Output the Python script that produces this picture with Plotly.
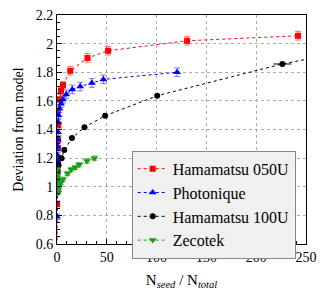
import plotly.graph_objects as go

# Hamamatsu 050U
ham050_x = [0.0, 0.1, 0.2, 0.3, 0.4, 0.5, 0.6, 0.8, 1.0, 1.3, 0.7, 2.3, 4.0, 6.0, 13.3, 30.6, 51.3, 130.6, 242.0]
ham050_y = [0.50, 0.88, 0.98, 1.05, 1.10, 1.15, 1.20, 1.27, 1.33, 1.43, 1.53, 1.61, 1.67, 1.71, 1.81, 1.90, 1.95, 2.02, 2.055]
ham050_err = [0.02, 0.02, 0.02, 0.02, 0.02, 0.02, 0.02, 0.02, 0.02, 0.02, 0.02, 0.02, 0.025, 0.025, 0.03, 0.03, 0.03, 0.03, 0.03]

# Photonique
phot_x = [0.0, 0.1, 0.2, 0.3, 0.4, 0.5, 0.6, 0.7, 0.8, 1.0, 1.2, 1.5, 2.5, 4.0, 6.0, 9.3, 15.3, 23.3, 35.0, 46.6, 120.6]
phot_y = [0.79, 0.97, 1.00, 1.05, 1.12, 1.18, 1.22, 1.28, 1.33, 1.38, 1.45, 1.50, 1.545, 1.58, 1.61, 1.645, 1.68, 1.70, 1.725, 1.75, 1.80]
phot_err = [0.02] * 12 + [0.025, 0.025, 0.025, 0.03, 0.03, 0.03, 0.03, 0.03, 0.03]

# Hamamatsu 100U
ham100_x = [0.3, 1.6, 4.6, 7.3, 15.0, 27.6, 48.3, 100.6, 226.3, 280.0]
ham100_y = [1.10, 1.15, 1.20, 1.257, 1.34, 1.416, 1.496, 1.636, 1.858, 1.93]
ham100_xerr = [0, 0, 0, 0, 0, 0, 0, 0, 9, 0]

# Zecotek
zeco_x = [0.2, 0.4, 0.6, 0.8, 1.0, 1.5, 2.0, 4.0, 6.0, 10.6, 14.3, 18.3, 22.3, 30.0, 37.6]
zeco_y = [1.12, 1.08, 1.05, 1.02, 0.98, 0.96, 1.00, 1.03, 1.053, 1.093, 1.12, 1.135, 1.154, 1.18, 1.20]
zeco_err = [0.015] * 15

series_names = ["Hamamatsu 050U", "Photonique", "Hamamatsu 100U", "Zecotek"]

x_ticks = [0, 50, 100, 150, 200, 250]
y_ticks = [0.6, 0.8, 1.0, 1.2, 1.4, 1.6, 1.8, 2.0, 2.2]
y_tick_labels = ["0.6", "0.8", "1", "1.2", "1.4", "1.6", "1.8", "2", "2.2"]

FONT = "Liberation Serif"

fig = go.Figure()
fig.add_trace(go.Scatter(
    x=ham050_x, y=ham050_y, name=series_names[0], mode="lines+markers",
    line=dict(color="#ff0000", dash="dot", width=1),
    marker=dict(symbol="square", size=6, color="#ff0000"),
    error_y=dict(type="data", array=ham050_err, color="rgba(255,60,60,0.7)", thickness=1, width=3),
))
fig.add_trace(go.Scatter(
    x=phot_x, y=phot_y, name=series_names[1], mode="lines+markers",
    line=dict(color="#0000ff", dash="dot", width=1),
    marker=dict(symbol="triangle-up", size=7, color="#0000ff"),
    error_y=dict(type="data", array=phot_err, color="rgba(60,60,255,0.7)", thickness=1, width=3),
))
fig.add_trace(go.Scatter(
    x=ham100_x, y=ham100_y, name=series_names[2], mode="lines+markers",
    line=dict(color="#000000", dash="dot", width=1),
    marker=dict(symbol="circle", size=6, color="#000000"),
    error_x=dict(type="data", array=ham100_xerr, color="rgba(90,90,90,0.8)", thickness=2, width=0),
))
fig.add_trace(go.Scatter(
    x=zeco_x, y=zeco_y, name=series_names[3], mode="lines+markers",
    line=dict(color="#1a9e1a", dash="dot", width=1),
    marker=dict(symbol="triangle-down", size=7, color="#1a9e1a"),
    error_y=dict(type="data", array=zeco_err, color="rgba(40,170,40,0.7)", thickness=1, width=3),
))

axis_common = dict(
    showline=True, linecolor="black", linewidth=1, mirror=True,
    ticks="inside", ticklen=5, tickcolor="black",
    showgrid=True, gridcolor="#aaaaaa", griddash="dot", gridwidth=1,
    zeroline=False, automargin=False,
    tickfont=dict(family=FONT, size=14, color="black"),
)

fig.update_xaxes(
    range=[0, 250], tickmode="array", tickvals=x_ticks,
    minor=dict(dtick=10, tick0=0, ticks="inside", ticklen=3, tickcolor="black", showgrid=False),
    title=dict(text="N<sub><i>seed</i></sub> / N<sub><i>total</i></sub>",
               font=dict(family=FONT, size=15, color="black"), standoff=10),
    **axis_common,
)
fig.update_yaxes(
    range=[0.6, 2.2], tickmode="array", tickvals=y_ticks, ticktext=y_tick_labels,
    minor=dict(dtick=0.05, tick0=0.6, ticks="inside", ticklen=3, tickcolor="black", showgrid=False),
    title=dict(text="Deviation from model",
               font=dict(family=FONT, size=14, color="black"), standoff=8),
    **axis_common,
)

fig.update_layout(
    width=332, height=290,
    margin=dict(l=57, r=26, t=15, b=46),
    plot_bgcolor="white", paper_bgcolor="white",
    font=dict(family=FONT, size=14, color="black"),
    legend=dict(
        x=0.30, y=0.407, xanchor="left", yanchor="top",
        bgcolor="#f0f0f0", bordercolor="#888888", borderwidth=1,
        font=dict(family="Liberation Serif", size=16, color="black"),
        tracegroupgap=0, itemwidth=30,
    ),
    showlegend=True,
)

fig.write_html("out.html", config={"displayModeBar": False},
               post_script="document.body.style.margin='0';")
